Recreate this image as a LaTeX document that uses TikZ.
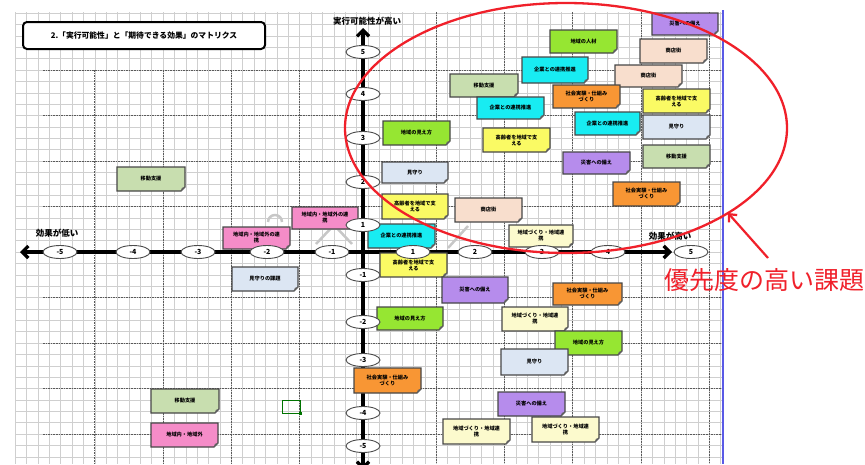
\documentclass[tikz,border=0pt]{standalone}
\usepackage{fontspec}
\setmainfont{Noto Sans CJK JP}
\usetikzlibrary{arrows.meta,shapes.geometric}
\definecolor{cpurple}{RGB}{182,140,236}
\definecolor{cgreen}{RGB}{150,230,50}
\definecolor{cpeach}{RGB}{248,222,205}
\definecolor{ccyan}{RGB}{24,236,242}
\definecolor{csage}{RGB}{200,222,175}
\definecolor{corange}{RGB}{248,150,52}
\definecolor{cyellow}{RGB}{250,250,100}
\definecolor{cltblue}{RGB}{220,230,243}
\definecolor{cltyellow}{RGB}{252,250,205}
\definecolor{cpink}{RGB}{245,140,200}
\definecolor{cred}{RGB}{240,32,42}
\definecolor{cblue}{RGB}{90,90,230}
\tikzset{
  minorgrid/.style={draw=black!19, line width=0.5pt},
  majorgrid/.style={draw=black!65, line width=0.9pt, dash pattern=on 1.6pt off 1pt},
  axisline/.style={line width=3.3pt, black},
  tickmark/.style={ellipse, draw=black!70, line width=0.9pt, fill=white, minimum width=34pt, minimum height=13pt, inner sep=0pt, font=\fontsize{7}{7}\selectfont\bfseries},
  memobox/.style={draw=black!72, line width=1.2pt},
  memotext/.style={align=center, inner sep=0pt, font=\fontsize{5.2}{6}\selectfont\bfseries},
  axislabel/.style={font=\fontsize{8.5}{9}\selectfont\bfseries, inner sep=0pt},
  ghost/.style={draw=black!22, line width=2.5pt, line join=round}
}
\newcommand\memo[7]{%
  \path[memobox, fill=#6] (#2,#3) -- (#4,#3) -- (#4,#5-4) -- (#4-4,#5) -- (#2,#5) -- cycle;
  \fill[black!60] (#4,#5-4) -- (#4-4,#5) -- (#4-3.2,#5-3.2) -- cycle;
  \node[memotext] (#1) at ({(#2+#4)/2},{(#3+#5)/2}) {#7};
}
\begin{document}
\begin{tikzpicture}[x=1pt,y=-1pt]
\useasboundingbox (0,0) rectangle (865,464);
\fill[white] (0,0) rectangle (865,464);
% minor grid
\foreach \i in {-1,...,61} { \draw[minorgrid] ({26.5+11.38*\i},12) -- ({26.5+11.38*\i},464); }
\foreach \k in {-18,...,21} { \draw[minorgrid] (15,{252-11.375*\k}) -- (723,{252-11.375*\k}); }
% major dashed grid
\foreach \m in {70,115.5,161,206.5,297.5,343,388.5,434} { \draw[majorgrid] (43,\m) -- (723,\m); }
\foreach \n in {94.8,163,231.3,299.6} { \draw[majorgrid] (\n,70) -- (\n,464); }
\foreach \n in {436.2,504.5,572.8,641,709.3} { \draw[majorgrid] (\n,12) -- (\n,464); }
\draw[cblue, line width=1.5pt] (723,10) -- (723,464);
% faint background shapes
\draw[ghost] (316,244) -- (334,225) -- (352,244);
\draw[ghost] (448,248) -- (468,226);
\draw[ghost] (268,222) arc[start angle=180, end angle=0, radius=7pt];
% axes
\coordinate (xl) at (20,252);
\coordinate (xr) at (672,252);
\coordinate (yt) at (363,28);
\coordinate (yb) at (363,470);
\draw[axisline, {Straight Barb[length=6pt,width=12pt]}-{Straight Barb[length=6pt,width=12pt]}] (xl) -- (xr);
\draw[axisline, {Straight Barb[length=6pt,width=12pt]}-{Straight Barb[length=6pt,width=12pt]}] (yt) -- (yb);
% title
\node[draw=black, line width=2pt, rounded corners=4pt, fill=white, minimum width=242pt, minimum height=27pt, inner sep=0pt, font=\fontsize{7.8}{8}\selectfont\bfseries] (title) at (144,35.5) {2.「実行可能性」と「期待できる効果」のマトリクス};
% axis labels
\node[axislabel] (ylab) at (367,21) {実行可能性が高い};
\node[axislabel] (xlow) at (57,233) {効果が低い};
\node[axislabel] (xhigh) at (670,236) {効果が高い};
% memos
\memo{m1}{652}{13}{718}{35}{cpurple}{災害への備え}
\memo{m2}{550}{30}{617}{53}{cgreen}{地域の人材}
\memo{m3}{640}{39}{707}{63}{cpeach}{商店街}
\memo{m4}{522}{57}{588}{83}{ccyan}{企業との連携推進}
\memo{m5}{615}{65}{682}{87}{cpeach}{商店街}
\memo{m6}{450}{74}{518}{97}{csage}{移動支援}
\memo{m7}{553}{85}{620}{108}{corange}{社会実験・仕組み\\づくり}
\memo{m8}{643}{89}{710}{113}{cyellow}{高齢者を地域で支\\える}
\memo{m9}{477}{97}{544}{119}{ccyan}{企業との連携推進}
\memo{m10}{575}{112}{640}{135}{ccyan}{企業との連携推進}
\memo{m11}{643}{115}{710}{139}{cltblue}{見守り}
\memo{m12}{383}{121}{450}{145}{cgreen}{地域の見え方}
\memo{m13}{483}{128}{550}{152}{cyellow}{高齢者を地域で支\\える}
\memo{m14}{643}{145}{710}{168}{csage}{移動支援}
\memo{m15}{563}{152}{630}{174}{cpurple}{災害への備え}
\memo{m16}{382}{162}{448}{183}{cltblue}{見守り}
\memo{m17}{613}{182}{680}{206}{corange}{社会実験・仕組み\\づくり}
\memo{m18}{117}{167}{185}{191}{csage}{移動支援}
\memo{m19}{382}{194}{448}{219}{cyellow}{高齢者を地域で支\\える}
\memo{m20}{455}{198}{522}{222}{cpeach}{商店街}
\memo{m21}{292}{207}{358}{229}{cpink}{地域内・地域外の連\\携}
\memo{m22}{223}{227}{290}{249}{cpink}{地域内・地域外の連\\携}
\memo{m23}{368}{224}{435}{248}{ccyan}{企業との連携推進}
\memo{m24}{509}{225}{573}{247}{cltyellow}{地域づくり・地域連\\携}
\memo{m25}{232}{267}{298}{291}{cltblue}{見守りの課題}
\memo{m26}{380}{253}{447}{277}{cyellow}{高齢者を地域で支\\える}
\memo{m27}{442}{277}{508}{303}{cpurple}{災害への備え}
\memo{m28}{553}{283}{622}{305}{corange}{社会実験・仕組み\\づくり}
\memo{m29}{377}{307}{443}{330}{cgreen}{地域の見え方}
\memo{m30}{502}{307}{568}{331}{cltyellow}{地域づくり・地域連\\携}
\memo{m31}{555}{331}{622}{355}{cgreen}{地域の見え方}
\memo{m32}{501}{349}{568}{375}{cltblue}{見守り}
\memo{m33}{354}{368}{421}{393}{corange}{社会実験・仕組み\\づくり}
\memo{m34}{498}{392}{565}{416}{cpurple}{災害への備え}
\memo{m35}{443}{419}{510}{444}{cltyellow}{地域づくり・地域連\\携}
\memo{m36}{532}{417}{599}{442}{cltyellow}{地域づくり・地域連\\携}
\memo{m37}{151}{389}{219}{413}{csage}{移動支援}
\memo{m38}{151}{423}{218}{447}{cpink}{地域内・地域外}
% small selection mark
\draw[green!45!black, line width=1pt] (282,400) rectangle (300,413);
\fill[green!45!black] (299,412) rectangle (302,415);
% ticks on x axis
\node[tickmark] (xm5) at (60,252) {-5};
\node[tickmark] (xm4) at (133,252) {-4};
\node[tickmark] (xm3) at (198,252) {-3};
\node[tickmark] (xm2) at (267,252) {-2};
\node[tickmark] (xm1) at (332,252) {-1};
\node[tickmark] (xp1) at (413,252) {1};
\node[tickmark] (xp2) at (475,252) {2};
\node[tickmark] (xp3) at (542,252) {3};
\node[tickmark] (xp4) at (608,252) {4};
\node[tickmark] (xp5) at (691,252) {5};
% ticks on y axis
\node[tickmark] (yp5) at (363,52) {5};
\node[tickmark] (yp4) at (363,94) {4};
\node[tickmark] (yp3) at (363,138) {3};
\node[tickmark] (yp2) at (363,182) {2};
\node[tickmark] (yp1) at (363,225) {1};
\node[tickmark] (ym1) at (363,275) {-1};
\node[tickmark] (ym2) at (363,322) {-2};
\node[tickmark] (ym3) at (363,360) {-3};
\node[tickmark] (ym4) at (363,413) {-4};
\node[tickmark] (ym5) at (363,446) {-5};
% red highlight
\draw[cred, line width=2.3pt] (566,128) ellipse [x radius=221pt, y radius=125pt];
\node[text=cred, inner sep=0pt, font=\fontsize{25}{25}\selectfont] (prio) at (764,280) {優先度の高い課題};
\coordinate (arrowstart) at (768,258);
\coordinate (arrowend) at (728,213);
\draw[cred, line width=2.2pt, -{Straight Barb[length=6pt,width=11pt]}] (arrowstart) -- (arrowend);
\end{tikzpicture}
\end{document}
